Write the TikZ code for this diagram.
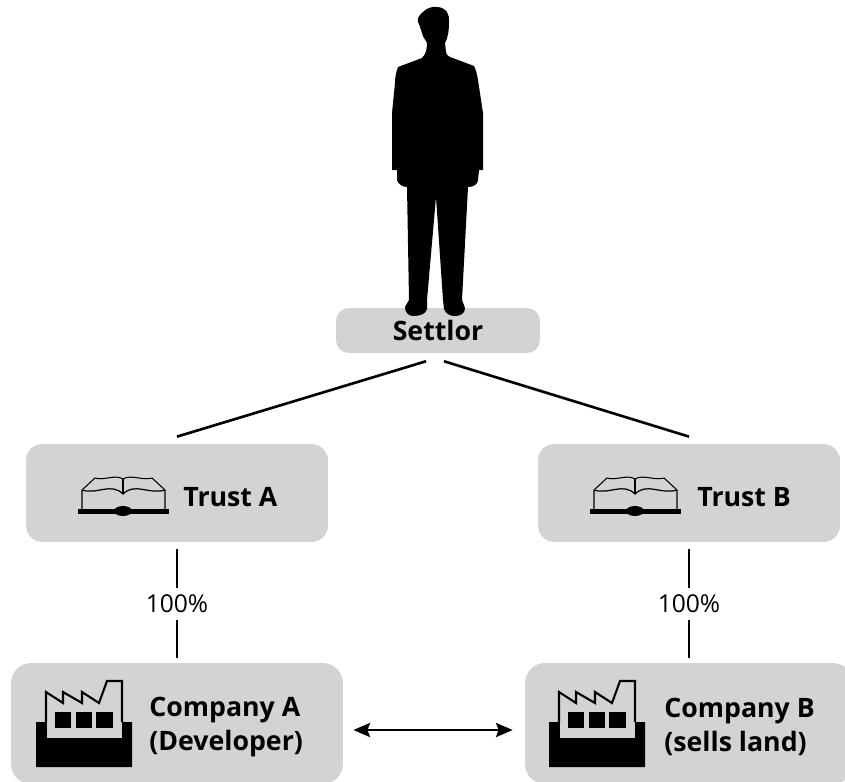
\documentclass[tikz,border=0pt]{standalone}
\usepackage{fontspec}
\setmainfont{Open Sans}
\usetikzlibrary{positioning,arrows.meta}
\definecolor{boxgray}{RGB}{209,211,212}
\tikzset{
    box/.style={fill=boxgray, inner sep=0pt},
    boxtext/.style={inner sep=0pt, align=left, font=\fontsize{15.2}{19.8}\selectfont\bfseries},
    link/.style={line width=1.5pt, black},
    pct/.style={inner sep=0pt, minimum height=0.64cm, font=\fontsize{14}{16}\selectfont},
    booksym/.pic={
        \draw[line width=0.6pt] (-41,13) -- (-41,-6) -- (-28,-18) .. controls (-20,-15) and (-8,-22) .. (0,-17) .. controls (8,-22) and (20,-15) .. (29,-18) -- (42,-6) -- (42,13);
        \draw[line width=0.7pt] (-41,-6) .. controls (-26,-1) and (-12,-14) .. (0,-2) .. controls (12,-14) and (26,-1) .. (42,-6);
        \draw[line width=0.6pt] (0,-17) -- (0,-2);
        \fill (-45,13) rectangle (46,18);
        \fill (0,15) ellipse (9 and 5);
    },
    factorysym/.pic={
        \fill (-48,0) -- (-38,0) -- (-38,16) -- (38,16) -- (38,0) -- (48,0) -- (48,45) -- (-48,45) -- cycle;
        \draw[line width=0.5pt] (-38,0) -- (-38,16) -- (38,16) -- (38,0);
        \draw[line width=1.2pt] (-38,0) -- (-38,-30) -- (-21,-19) -- (-21,-30) -- (-2,-19) -- (-2,-30) -- (15,-19) -- (23,-41) -- (38,-41) -- (38,0);
        \fill (-29,-10) rectangle (-13,6);
        \fill (-8,-10) rectangle (8,6);
        \fill (12,-10) rectangle (29,6);
    }
}
\begin{document}
\begin{tikzpicture}[x=0.02cm, y=-0.02cm]
    \useasboundingbox (0,0) rectangle (845,781);
    % boxes
    \node[box, rounded corners=0.26cm, minimum width=4.08cm, minimum height=0.9cm, font=\fontsize{15.2}{19.8}\selectfont\bfseries] (settlor) at (438,330.5) {\raisebox{-1pt}{Settlor}};
    \node[box, rounded corners=0.33cm, minimum width=6.04cm, minimum height=1.96cm] (trustA) at (177,493) {};
    \node[box, rounded corners=0.33cm, minimum width=6.04cm, minimum height=1.96cm] (trustB) at (689,493) {};
    \node[box, rounded corners=0.4cm, minimum width=6.64cm, minimum height=2.42cm] (companyA) at (177,723.5) {};
    \node[box, rounded corners=0.4cm, minimum width=6.56cm, minimum height=2.42cm] (companyB) at (689,723.5) {};
    % person
    \fill[black] (437,7) .. controls (431,6) and (426,9) .. (423,12)
        .. controls (419,15) and (417,19) .. (418,22) .. controls (420,26) and (421,30) .. (422,33)
        .. controls (423,38) and (426,40) .. (427,43) .. controls (427,49) and (426,54) .. (422,58)
        -- (398,67) .. controls (396,72) and (395,78) .. (395,83)
        -- (392,113) -- (392,170) -- (397,170) -- (397,180)
        .. controls (398,184) and (402,187) .. (407,187) -- (409,300) -- (405,307)
        .. controls (405,312) and (408,316) .. (413,316) .. controls (420,316) and (426,314) .. (427,309)
        -- (427,300) -- (436,197) -- (443,300) -- (444,309) .. controls (446,314) and (450,316) .. (455,316)
        .. controls (461,316) and (465,313) .. (465,308) -- (462,300) -- (468,187)
        .. controls (474,187) and (478,184) .. (478,180) -- (479,170) -- (483,170) -- (483,113)
        -- (478,80) .. controls (477,74) and (476,70) .. (474,66) -- (450,57)
        .. controls (447,55) and (446,54) .. (446,52) -- (445,43) .. controls (448,38) and (449,30) .. (449,22)
        .. controls (449,18) and (449,15) .. (447,12) .. controls (445,9) and (441,7) .. (437,7) -- cycle;
    % icons
    \pic at (123,496) {booksym};
    \pic at (635,496) {booksym};
    \pic at (84,722) {factorysym};
    \pic at (597,722) {factorysym};
    % labels
    \node[boxtext, anchor=west] (trustAtext) at (183,497) {Trust A};
    \node[boxtext, anchor=west] (trustBtext) at (697,497) {Trust B};
    \node[boxtext, anchor=west] (companyAtext) at (149,727) {Company A\\(Developer)};
    \node[boxtext, anchor=west] (companyBtext) at (664,727) {Company B\\(sells land)};
    \node[pct] (pctA) at (177,604) {\raisebox{-0.6pt}{100\%}};
    \node[pct] (pctB) at (689,604) {\raisebox{-0.6pt}{100\%}};
    % connectors
    \coordinate (settlorL) at ([xshift=-6.8pt,yshift=-4.5pt]settlor.south);
    \coordinate (settlorR) at ([xshift=3.4pt,yshift=-4.5pt]settlor.south);
    \draw[link] (settlorL) -- ([yshift=4pt]trustA.north);
    \draw[link] (settlorR) -- ([yshift=4pt]trustB.north);
    \draw[link, shorten <=4pt] (trustA.south) -- (pctA.north);
    \draw[link, shorten >=2.8pt] (pctA.south) -- (companyA.north);
    \draw[link, shorten <=4pt] (trustB.south) -- (pctB.north);
    \draw[link, shorten >=2.8pt] (pctB.south) -- (companyB.north);
    \draw[link, {Stealth[length=9.5pt,width=8pt,inset=1.5pt]}-{Stealth[length=9.5pt,width=8pt,inset=1.5pt]}, shorten >=6.8pt, shorten <=5.7pt] ([yshift=-3.7pt]companyA.east) -- ([yshift=-3.7pt]companyB.west);
\end{tikzpicture}
\end{document}
